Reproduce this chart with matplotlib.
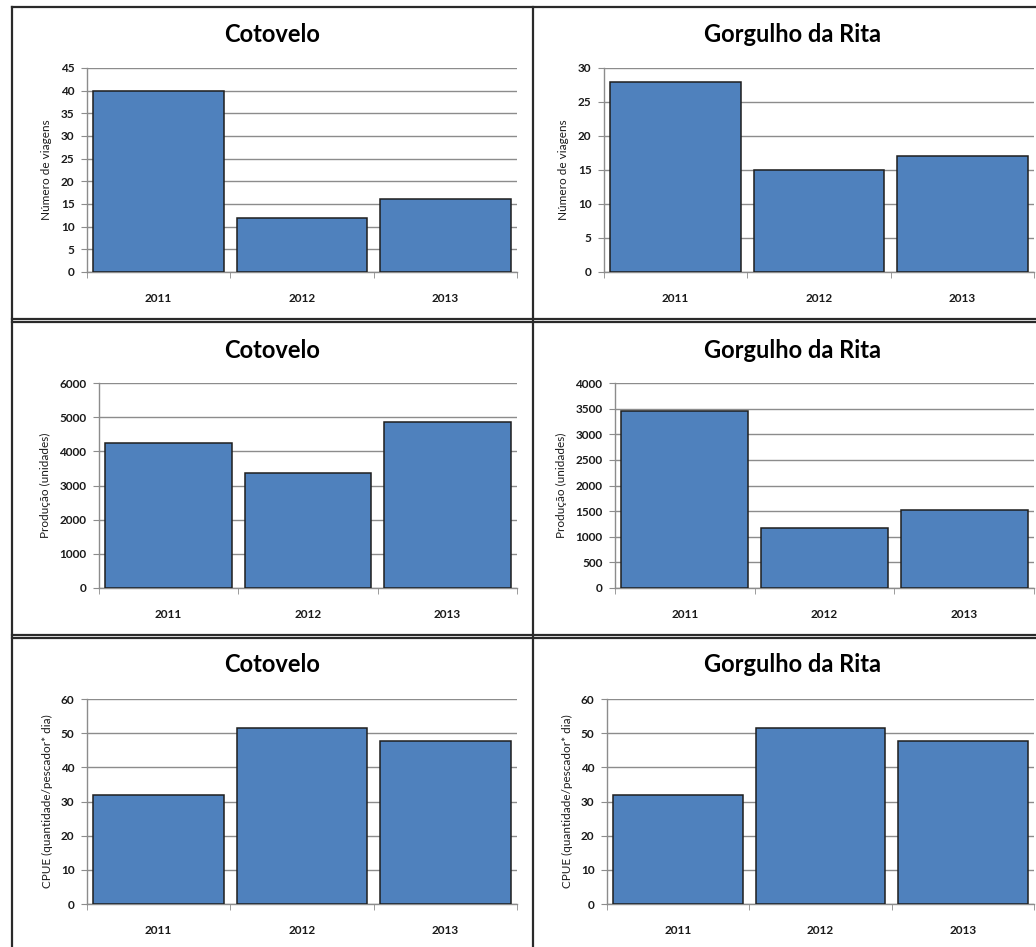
import matplotlib.pyplot as plt
from matplotlib.lines import Line2D
import numpy as np

plt.rcParams['font.family'] = ['Lato', 'DejaVu Sans']

W, H = 1036, 947

anos = ['2011', '2012', '2013']
locais = ['Cotovelo', 'Gorgulho da Rita']

# viagens, producao e CPUE por local
viagens_cotovelo = [40, 12, 16]
viagens_gorgulho = [28, 15, 17]
producao_cotovelo = [4250, 3370, 4850]
producao_gorgulho = [3450, 1180, 1520]
cpue_cotovelo = [32, 51.5, 47.7]
cpue_gorgulho = [32, 51.5, 47.7]

ylabels = ['Número de viagens', 'Produção (unidades)',
           'CPUE (quantidade/pescador* dia)']

paineis = [
    # (valores, ymax, passo, ylabel, titulo, left, right, top, bottom) em pixels
    (viagens_cotovelo, 45, 5, ylabels[0], locais[0], 87, 517, 68, 272),
    (viagens_gorgulho, 30, 5, ylabels[0], locais[1], 604, 1034, 68, 272),
    (producao_cotovelo, 6000, 1000, ylabels[1], locais[0], 99, 517, 383, 588),
    (producao_gorgulho, 4000, 500, ylabels[1], locais[1], 615, 1034, 383, 588),
    (cpue_cotovelo, 60, 10, ylabels[2], locais[0], 87, 517, 699, 904),
    (cpue_gorgulho, 60, 10, ylabels[2], locais[1], 607, 1034, 699, 904),
]
# centro do titulo de cada painel (x, y em pixels)
titulos_pos = [(272, 35), (793, 35), (272, 350), (793, 350),
               (272, 665), (793, 665)]

fig = plt.figure(figsize=(W / 100, H / 100), dpi=100)
fig.patch.set_facecolor('white')

grid_cor = '#8c8c8c'
texto_cor = '#1a1a1a'
for (vals, ymax, passo, ylab, titulo, l, r, t, b), (tx, ty) in zip(paineis, titulos_pos):
    ax = fig.add_axes([l / W, 1 - b / H, (r - l) / W, (b - t) / H])
    x = np.arange(len(anos))
    ax.bar(x, vals, width=0.91, color='#4F81BD', edgecolor='#1e1e1e',
           linewidth=1.1, zorder=3)
    ax.set_xlim(-0.5, len(anos) - 0.5)
    ax.set_ylim(0, ymax)
    ax.set_yticks(np.arange(0, ymax + passo / 2, passo))
    ax.yaxis.grid(True, color=grid_cor, linewidth=1.0, zorder=0)
    ax.set_xticks(x)
    ax.set_xticklabels(anos)
    ax.set_xticks(np.arange(-0.5, len(anos)), minor=True)
    ax.tick_params(axis='x', which='major', length=0, pad=15,
                   labelsize=8.5, labelcolor=texto_cor)
    ax.tick_params(axis='x', which='minor', length=4, color=grid_cor,
                   direction='out')
    ax.tick_params(axis='y', length=4, color=grid_cor, direction='out',
                   labelsize=8.5, labelcolor=texto_cor, pad=5)
    for lbl in ax.get_xticklabels() + ax.get_yticklabels():
        lbl.set_fontweight('bold')
    for s in ['top', 'right']:
        ax.spines[s].set_visible(False)
    for s in ['left', 'bottom']:
        ax.spines[s].set_color(grid_cor)
        ax.spines[s].set_linewidth(1.0)
    ax.set_ylabel(ylab, fontsize=8.5, color=texto_cor, labelpad=6)
    fig.text(tx / W, 1 - ty / H, titulo, fontsize=17, fontweight='bold',
             ha='center', va='center', color='black')

# molduras de cada grafico
def linha(x0, y0, x1, y1):
    fig.add_artist(Line2D([x0 / W, x1 / W], [1 - y0 / H, 1 - y1 / H],
                          color='#2a2a2a', linewidth=1.6))

linha(12, 7, 1036, 7)
linha(12, 7, 12, 947)
linha(533, 7, 533, 947)
for y in (319, 322, 635, 638):
    linha(12, y, 1036, y)

fig.savefig('out.png', dpi=100)
